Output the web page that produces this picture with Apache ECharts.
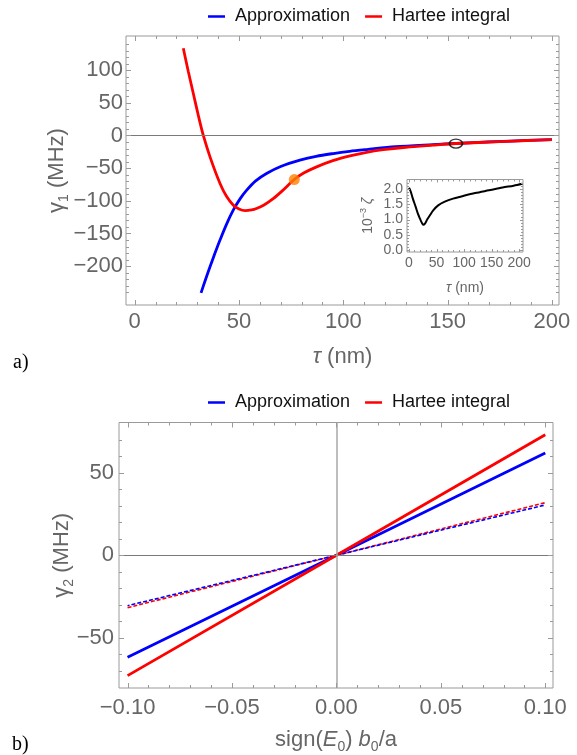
<!DOCTYPE html>
<html>
<head>
<meta charset="utf-8">
<script src="https://cdn.jsdelivr.net/npm/echarts@6.0.0/dist/echarts.min.js"></script>
<style>
html,body{margin:0;padding:0;background:#fff;}
#c{width:577px;height:755px;}
</style>
</head>
<body>
<div id="c"></div>
<script>
// ---------- data ----------
// panel a) main curves
const approxTau   = [31.8, 34, 36.1, 38.5, 40.9, 44, 47.3, 50.5, 53.7, 58, 63.2, 70, 79.2, 87, 95.2, 103, 111.2, 125, 143, 160, 180, 200];
const approxGamma = [-241, -220, -201, -180, -160, -136, -114, -97, -83.7, -69.5, -58.2, -47.5, -37.8, -31.8, -27.6, -24.3, -21.5, -17.1, -13.9, -11.2, -8.6, -6.2];
const hartTau     = [23.3, 25.7, 28.1, 30.7, 32.9, 36.1, 40.9, 44, 47.3, 50, 52.9, 56, 58.4, 62, 66.4, 71, 76.5, 81, 87.2, 95, 103.2, 110, 119.1, 130, 143, 154, 165, 175, 188, 200];
const hartGamma   = [133.5, 98, 64.3, 28, 0, -32.7, -73.5, -93, -106.7, -112.5, -115, -114, -111.8, -106.3, -96.7, -84, -67.4, -57.5, -48, -38.5, -31.2, -26.5, -21.8, -18, -14.8, -12.3, -10.7, -9.3, -7.7, -6.3];
const orangePoint = [76.5, -67.4];
const blackCircle = [154, -12.3];
const tauTicks    = [0, 50, 100, 150, 200];
const gamma1Ticks = [-200, -150, -100, -50, 0, 50, 100];
// inset
const insetTau    = [0, 3, 7, 12, 16, 20, 23, 26, 29, 33, 38, 44, 53, 65, 80, 95, 120, 145, 170, 190, 206];
const insetZeta   = [2.03, 1.92, 1.68, 1.42, 1.2, 1.03, 0.91, 0.83, 0.87, 1.0, 1.14, 1.3, 1.46, 1.58, 1.68, 1.75, 1.86, 1.95, 2.04, 2.1, 2.16];
const insetTauTicks  = [0, 50, 100, 150, 200];
const insetZetaTicks = [0, 0.5, 1.0, 1.5, 2.0];
// panel b)
const b0a          = [-0.1, 0, 0.1];
const approxSolid  = [-61.7, 0, 61.9];
const hartSolid    = [-72.8, 0, 72.9];
const approxDashed = [-30.5, 0, 30.4];
const hartDashed   = [-31.7, 0, 31.8];
const b0aTicks     = [-0.10, -0.05, 0.00, 0.05, 0.10];
const gamma2Ticks  = [-50, 0, 50];

// ---------- helpers ----------
const FRAME = '#9a9a9a', TXT = '#666666', FONT = 'Liberation Sans';
const BLUE = '#0000ff', RED = '#ff0000';
const zip = (a, b) => a.map((v, i) => [v, b[i]]);
const minus = s => String(s).replace('-', '\u2212');
function minors(lo, hi, scale, every) {
  const out = [];
  for (let k = lo; k <= hi; k++) { if (k % every !== 0) out.push(k / scale); }
  return out;
}
function xAxisOf(grid, o) {
  return { type: 'value', gridIndex: grid, position: 'bottom', min: o.min, max: o.max, scale: true,
    splitLine: { show: false }, axisLine: { show: false }, axisTick: { show: false },
    axisLabel: { show: true, customValues: o.major, formatter: o.fmt, color: TXT, fontSize: o.fs, fontFamily: FONT, margin: o.margin },
    name: o.name, nameLocation: 'middle', nameGap: o.nameGap, nameMoveOverlap: false, nameTextStyle: o.nameStyle };
}
function yAxisOf(grid, o) {
  return Object.assign(xAxisOf(grid, o), { position: 'left' });
}
// frame ticks (inside, on all four sides) placed through the axes' own scales
function tickSeries(gi, xs, ys, majLen, minLen) {
  const data = [];
  const ax = xs.major[0], ay = ys.major[0];
  xs.major.forEach(v => data.push([v, ay, majLen, 0]));
  xs.minor.forEach(v => data.push([v, ay, minLen, 0]));
  ys.major.forEach(v => data.push([ax, v, majLen, 1]));
  ys.minor.forEach(v => data.push([ax, v, minLen, 1]));
  return {
    type: 'custom', xAxisIndex: gi, yAxisIndex: gi, silent: true, z: 6, clip: false, data: data,
    renderItem: function (params, api) {
      const cs = params.coordSys;
      const p = api.coord([api.value(0), api.value(1)]);
      const len = api.value(2), dir = api.value(3);
      const st = { stroke: FRAME, lineWidth: 1 };
      if (dir === 0) {
        if (p[0] < cs.x + 0.5 || p[0] > cs.x + cs.width - 0.5) return null;
        const x = Math.round(p[0]) + 0.5, b = cs.y + cs.height, t = cs.y;
        return { type: 'group', children: [
          { type: 'line', shape: { x1: x, y1: b, x2: x, y2: b - len }, style: st },
          { type: 'line', shape: { x1: x, y1: t, x2: x, y2: t + len }, style: st } ] };
      } else {
        if (p[1] < cs.y + 0.5 || p[1] > cs.y + cs.height - 0.5) return null;
        const y = Math.round(p[1]) + 0.5, l = cs.x, r = cs.x + cs.width;
        return { type: 'group', children: [
          { type: 'line', shape: { x1: l, y1: y, x2: l + len, y2: y }, style: st },
          { type: 'line', shape: { x1: r, y1: y, x2: r - len, y2: y }, style: st } ] };
      }
    }
  };
}
const bigName = { color: TXT, fontSize: 22, fontFamily: FONT, lineHeight: 28,
  rich: { s: { fontSize: 14, lineHeight: 14, verticalAlign: 'bottom' }, i: { fontStyle: 'italic' } } };
const smallName = { color: TXT, fontSize: 14, fontFamily: FONT, lineHeight: 18,
  rich: { sup: { fontSize: 9, lineHeight: 9, verticalAlign: 'top' }, i: { fontStyle: 'italic' } } };

const ax = [
  { x: { min: -4.17, max: 203.4, major: tauTicks, minor: minors(0, 20, 0.1, 5), fmt: v => minus(v), fs: 22, margin: 6,
         name: '{i|τ} (nm)', nameGap: 38, nameStyle: bigName },
    y: { min: -259.5, max: 152.3, major: gamma1Ticks, minor: minors(-25, 15, 0.1, 5), fmt: v => minus(v), fs: 22, margin: 3,
         name: 'γ{s|1} (MHz)', nameGap: 55, nameStyle: bigName }, maj: 5, mn: 3 },
  { x: { min: -3.6, max: 207, major: insetTauTicks, minor: minors(0, 20, 0.1, 5), fmt: v => minus(v), fs: 14, margin: 4,
         name: '{i|τ} (nm)', nameGap: 27, nameStyle: smallName },
    y: { min: -0.05, max: 2.3, major: insetZetaTicks, minor: minors(0, 23, 10, 5), fmt: v => v.toFixed(1), fs: 14, margin: 4,
         name: '10{sup|\u22123} {i|ζ}', nameGap: 30, nameStyle: smallName }, maj: 3, mn: 2 },
  { x: { min: -0.1041, max: 0.1037, major: b0aTicks, minor: minors(-10, 10, 100, 5), fmt: v => minus(v.toFixed(2)), fs: 22, margin: 9,
         name: 'sign({i|E}{s|0}) {i|b}{s|0}/a', nameGap: 38, nameStyle: bigName },
    y: { min: -80.3, max: 80.3, major: gamma2Ticks, minor: minors(-8, 8, 0.1, 5), fmt: v => minus(v), fs: 22, margin: 5,
         name: 'γ{s|2} (MHz)', nameGap: 43, nameStyle: bigName }, maj: 5, mn: 3 }
];

const legendBase = { padding: 0, itemWidth: 17, itemHeight: 2.5, itemGap: 15, icon: 'rect', selectedMode: false,
  textStyle: { fontSize: 18, color: '#111', fontFamily: FONT, padding: [0, 0, 0, 5] },
  data: ['Approximation', 'Hartee integral'] };
const lineBase = { type: 'line', symbol: 'none', showSymbol: false, silent: true, animation: false };
const gridBase = { show: true, borderColor: FRAME, borderWidth: 1, backgroundColor: 'rgba(0,0,0,0)' };

const option = {
  animation: false,
  backgroundColor: '#ffffff',
  title: [
    { text: 'a)', left: 13, top: 353, padding: 0, textStyle: { fontFamily: 'Liberation Serif', fontSize: 20, fontWeight: 'normal', color: '#000' } },
    { text: 'b)', left: 12, top: 735, padding: 0, textStyle: { fontFamily: 'Liberation Serif', fontSize: 20, fontWeight: 'normal', color: '#000' } }
  ],
  legend: [
    Object.assign({}, legendBase, { left: 208, top: 7.5 }),
    Object.assign({}, legendBase, { left: 208, top: 393.5 })
  ],
  grid: [
    Object.assign({ left: 126, top: 36, width: 433, height: 269 }, gridBase),
    Object.assign({ left: 407, top: 179.5, width: 116, height: 72.5 }, gridBase),
    Object.assign({ left: 119, top: 422.5, width: 434, height: 267.5 }, gridBase)
  ],
  xAxis: ax.map((a, i) => xAxisOf(i, a.x)),
  yAxis: ax.map((a, i) => yAxisOf(i, a.y)),
  series: [
    // zero line a)
    Object.assign({}, lineBase, { name: 'zero-a', xAxisIndex: 0, yAxisIndex: 0, data: [], z: 1,
      markLine: { silent: true, symbol: 'none', label: { show: false }, animation: false,
        lineStyle: { color: '#7a7a7a', width: 1, type: 'solid' }, data: [{ yAxis: 0 }] } }),
    Object.assign({}, lineBase, { name: 'Approximation', xAxisIndex: 0, yAxisIndex: 0, z: 3,
      data: zip(approxTau, approxGamma), smooth: 0.3, color: BLUE, lineStyle: { color: BLUE, width: 2.8 } }),
    Object.assign({}, lineBase, { name: 'Hartee integral', xAxisIndex: 0, yAxisIndex: 0, z: 4,
      data: zip(hartTau, hartGamma), smooth: 0.3, color: RED, lineStyle: { color: RED, width: 2.8 } }),
    { type: 'scatter', name: 'orange', xAxisIndex: 0, yAxisIndex: 0, z: 5, silent: true,
      data: [orangePoint], symbol: 'circle', symbolSize: 11, itemStyle: { color: '#ff8000' } },
    { type: 'scatter', name: 'circle', xAxisIndex: 0, yAxisIndex: 0, z: 5, silent: true,
      data: [blackCircle], symbol: 'circle', symbolSize: [13, 9],
      itemStyle: { color: 'rgba(0,0,0,0)', borderColor: '#000', borderWidth: 1.5 } },
    // inset
    Object.assign({}, lineBase, { name: 'zeta', xAxisIndex: 1, yAxisIndex: 1, z: 3,
      data: zip(insetTau, insetZeta), smooth: 0.3, color: '#000', lineStyle: { color: '#000', width: 2 } }),
    // panel b) zero axes
    Object.assign({}, lineBase, { name: 'zero-b', xAxisIndex: 2, yAxisIndex: 2, data: [], z: 1,
      markLine: { silent: true, symbol: 'none', label: { show: false }, animation: false,
        data: [
          { yAxis: 0, lineStyle: { color: '#7a7a7a', width: 1, type: 'solid' } },
          { xAxis: 0, lineStyle: { color: '#a8a8a8', width: 1.5, type: 'solid' } }
        ] } }),
    Object.assign({}, lineBase, { name: 'Hartee integral', xAxisIndex: 2, yAxisIndex: 2, z: 3,
      data: zip(b0a, hartDashed), color: RED, lineStyle: { color: RED, width: 1.6, type: [4, 2] } }),
    Object.assign({}, lineBase, { name: 'Approximation', xAxisIndex: 2, yAxisIndex: 2, z: 3,
      data: zip(b0a, approxDashed), color: BLUE, lineStyle: { color: BLUE, width: 1.6, type: [4, 2], dashOffset: 2 } }),
    Object.assign({}, lineBase, { name: 'Approximation', xAxisIndex: 2, yAxisIndex: 2, z: 4,
      data: zip(b0a, approxSolid), color: BLUE, lineStyle: { color: BLUE, width: 2.8 } }),
    Object.assign({}, lineBase, { name: 'Hartee integral', xAxisIndex: 2, yAxisIndex: 2, z: 4,
      data: zip(b0a, hartSolid), color: RED, lineStyle: { color: RED, width: 2.8 } }),
    // frame ticks
    tickSeries(0, ax[0].x, ax[0].y, ax[0].maj, ax[0].mn),
    tickSeries(1, ax[1].x, ax[1].y, ax[1].maj, ax[1].mn),
    tickSeries(2, ax[2].x, ax[2].y, ax[2].maj, ax[2].mn)
  ]
};
const chart = echarts.init(document.getElementById('c'), null, { renderer: 'canvas' });
chart.setOption(option);
</script>
</body>
</html>
